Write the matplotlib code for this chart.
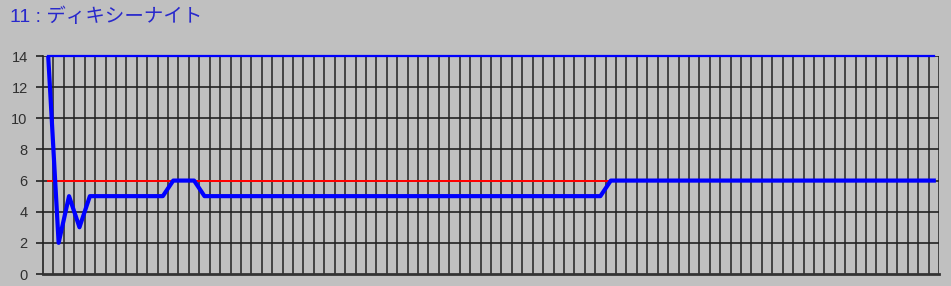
import matplotlib
matplotlib.use("Agg")
import matplotlib.pyplot as plt
import numpy as np

# chart values (86 categories)
title_text = "11 : ディキシーナイト"
n_points = 86
series_values = [14, 2, 5, 3, 5] + [5] * 7 + [6, 6, 6] + [5] * 39 + [6] * 32
upper_values = [14] * n_points
target_values = [6] * n_points
y_ticks = [0, 2, 4, 6, 8, 10, 12, 14]

bg = "#c0c0c0"

fig = plt.figure(figsize=(9.51, 2.86), dpi=100, facecolor=bg)
ax = fig.add_axes([43 / 951, 1 - 274 / 286, (939 - 43) / 951, (274 - 56) / 286])
ax.set_facecolor(bg)

x = np.arange(n_points) + 0.5

# grid
for gx in range(1, n_points + 1):
    ax.axvline(gx, color="#222222", lw=1.1, zorder=1)
for gy in y_ticks[1:]:
    ax.axhline(gy, color="#222222", lw=1.2, zorder=1)

ax.plot(x, target_values, color="#ff0000", lw=1.1, zorder=2, antialiased=False)
ax.plot(x, upper_values, color="#0000ff", lw=1.6, zorder=3, clip_on=False)
ax.plot(x, series_values, color="#0000ff", lw=3.0, zorder=4)

ax.set_xlim(0, n_points)
ax.set_ylim(0, 14)
ax.set_yticks(y_ticks)
ax.set_yticklabels([str(v) for v in y_ticks], fontsize=10.5, color="#303030",
                   family="Liberation Sans")
ax.set_xticks([])
ax.tick_params(axis="y", length=5, width=1.2, color="#222222", pad=6)

for side in ["top", "right"]:
    ax.spines[side].set_visible(False)
ax.spines["left"].set_color("#222222")
ax.spines["left"].set_linewidth(1.2)
ax.spines["bottom"].set_color("#333333")
ax.spines["bottom"].set_linewidth(2.0)

fig.text(10 / 951, 1 - 17 / 286, title_text, color="#2828cc", fontsize=14,
         va="center", ha="left", family=["Liberation Sans", "Noto Sans CJK JP"])

fig.savefig("out.png", dpi=100, facecolor=bg)
